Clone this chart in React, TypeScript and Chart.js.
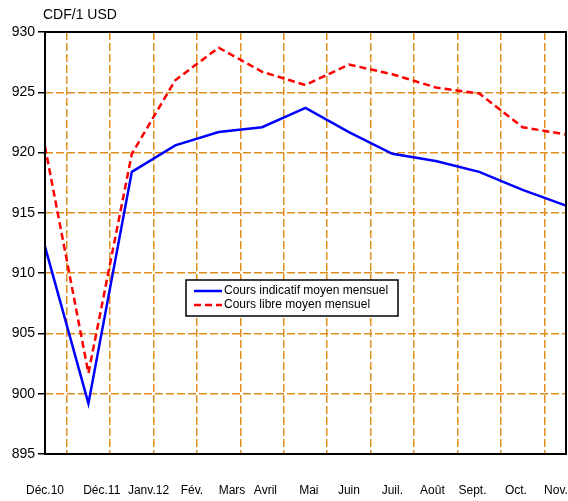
import React, { useEffect, useRef } from "react";
import { Chart, registerables } from "chart.js";

Chart.register(...registerables);

const categories = ["Déc.10", "Déc.11", "Janv.12", "Fév.", "Mars", "Avril", "Mai", "Juin", "Juil.", "Août", "Sept.", "Oct.", "Nov."];
const indicatif = [912.2, 899.2, 918.4, 920.6, 921.7, 922.1, 923.7, 921.7, 919.9, 919.3, 918.4, 916.9, 915.6];
const libre = [920.5, 901.7, 919.9, 926.0, 928.7, 926.7, 925.6, 927.3, 926.5, 925.4, 924.9, 922.1, 921.5];
const seriesNames = ["Cours indicatif moyen mensuel", "Cours libre moyen mensuel"];
const unitLabel = "CDF/1 USD";

// label nudges (in figure-space units; + shifts right, - shifts left) to mimic the original label placement
const labelNudge = [0, 4, 5, 5, 4, 1, 1, 0, 0, -1, -2, -2, -3];

const FONT = "'Liberation Sans', Arial, sans-serif";
const GRID = "#DE8E1E";
const FS = "\u2007";

const overlay = {
  id: "overlay",
  afterDatasetsDraw(chart: any) {
    const { ctx, chartArea } = chart;
    const { left, top, right, bottom } = chartArea;
    ctx.save();
    ctx.strokeStyle = "#000";
    ctx.lineWidth = 2;
    ctx.setLineDash([]);
    ctx.strokeRect(left, top, right - left, bottom - top);
    ctx.fillStyle = "#000";
    ctx.font = "14px " + FONT;
    ctx.textBaseline = "middle";
    ctx.textAlign = "left";
    ctx.fillText(unitLabel, 43, 15);
    const lx = 186, ly = 280, lw = 212, lh = 36;
    ctx.fillStyle = "#fff";
    ctx.fillRect(lx, ly, lw, lh);
    ctx.strokeStyle = "#000";
    ctx.lineWidth = 1.5;
    ctx.strokeRect(lx, ly, lw, lh);
    const rows = [
      { y: ly + 11, color: "#0000FF", dash: [] as number[] },
      { y: ly + 25, color: "#FF0000", dash: [7, 4] },
    ];
    rows.forEach((r, i) => {
      ctx.strokeStyle = r.color;
      ctx.lineWidth = 2.5;
      ctx.setLineDash(r.dash);
      ctx.beginPath();
      ctx.moveTo(lx + 8, r.y);
      ctx.lineTo(lx + 36, r.y);
      ctx.stroke();
      ctx.setLineDash([]);
      ctx.fillStyle = "#000";
      ctx.font = "12px " + FONT;
      ctx.textBaseline = "middle";
      ctx.fillText(seriesNames[i], lx + 38, r.y);
    });
    ctx.restore();
  },
};

export default function App() {
  const ref = useRef<HTMLCanvasElement>(null);
  useEffect(() => {
    const chart = new Chart(ref.current!, {
      type: "line",
      data: {
        labels: categories,
        datasets: [
          {
            label: seriesNames[0],
            data: indicatif,
            borderColor: "#0000FF",
            borderWidth: 2.5,
            pointRadius: 0,
            tension: 0,
            fill: false,
          },
          {
            label: seriesNames[1],
            data: libre,
            borderColor: "#FF0000",
            borderWidth: 2.5,
            borderDash: [7, 4],
            pointRadius: 0,
            tension: 0,
            fill: false,
          },
        ],
      },
      options: {
        animation: false,
        responsive: false,
        maintainAspectRatio: false,
        layout: { padding: { top: 32, right: 2, left: 0, bottom: 0 } },
        plugins: { legend: { display: false }, tooltip: { enabled: false }, title: { display: false } },
        scales: {
          x: {
            type: "category",
            offset: false,
            grid: {
              offset: true,
              color: GRID,
              lineWidth: 1.5,
              drawTicks: false,
            },
            border: { display: false, dash: [8, 3] },
            ticks: {
              color: "#000",
              font: { family: FONT, size: 12 },
              padding: 29,
              maxRotation: 0,
              autoSkip: false,
              callback: (_v: any, i: number) => {
                const n = labelNudge[i] || 0;
                return n >= 0 ? FS.repeat(n) + categories[i] : categories[i] + FS.repeat(-n);
              },
            },
            afterFit: (s: any) => {
              s.height = 47;
              s.paddingLeft = 0;
              s.paddingRight = 0;
            },
          },
          y: {
            min: 895,
            max: 930,
            grid: {
              color: GRID,
              lineWidth: 1.5,
              tickLength: 7,
              tickColor: "#000",
              tickWidth: 1.5,
            },
            border: { display: false, dash: [8, 3] },
            ticks: {
              stepSize: 5,
              color: "#000",
              font: { family: FONT, size: 14 },
              padding: 3,
            },
            afterFit: (s: any) => {
              s.width = 45;
              s.paddingTop = 0;
              s.paddingBottom = 0;
            },
          },
        },
      },
      plugins: [overlay],
    });
    return () => chart.destroy();
  }, []);
  return (
    <div style={{ position: "fixed", left: 0, top: 0, width: 568, height: 501, background: "#fff" }}>
      <canvas ref={ref} width={568} height={501} style={{ width: 568, height: 501 }} />
    </div>
  );
}
